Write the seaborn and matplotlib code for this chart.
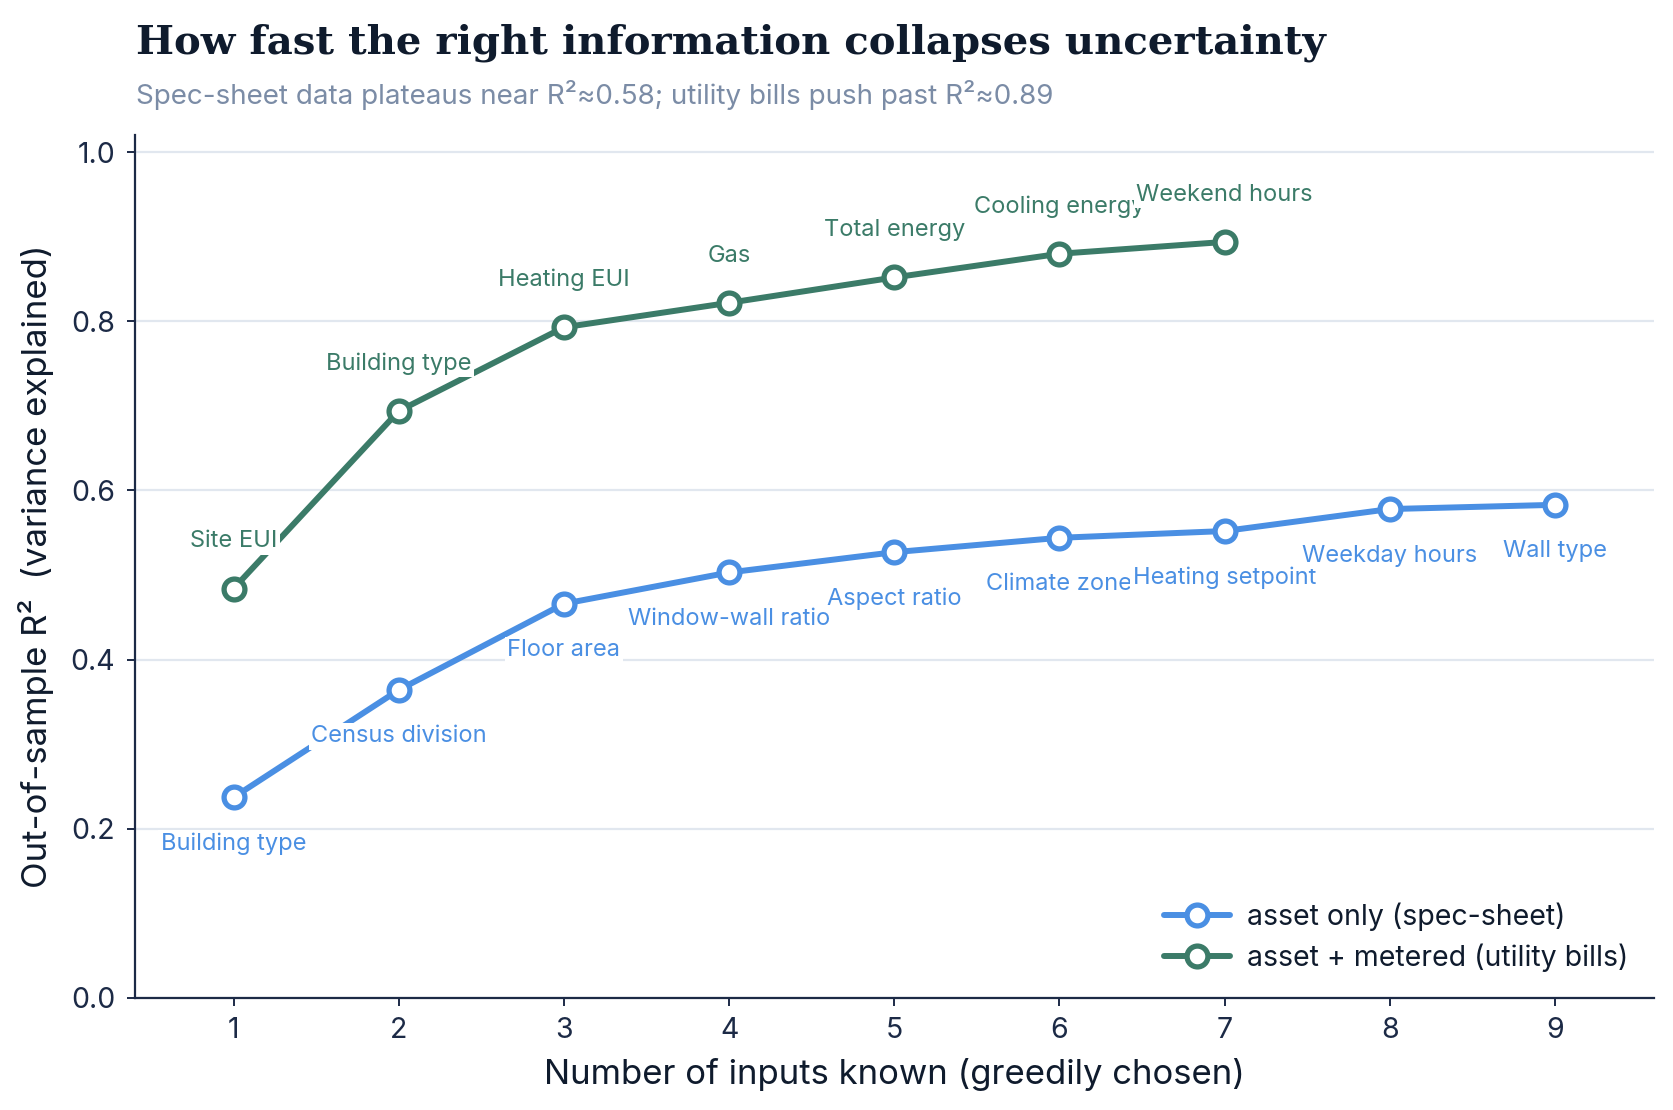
import matplotlib
matplotlib.use("Agg")
import matplotlib.pyplot as plt
import seaborn as sns
import pandas as pd

# data
asset_steps = [1, 2, 3, 4, 5, 6, 7, 8, 9]
asset_r2 = [0.237, 0.364, 0.466, 0.503, 0.527, 0.544, 0.552, 0.578, 0.583]
asset_labels = ["Building type", "Census division", "Floor area", "Window-wall ratio",
                "Aspect ratio", "Climate zone", "Heating setpoint", "Weekday hours", "Wall type"]

metered_steps = [1, 2, 3, 4, 5, 6, 7]
metered_r2 = [0.484, 0.694, 0.793, 0.822, 0.852, 0.880, 0.894]
metered_labels = ["Site EUI", "Building type", "Heating EUI", "Gas",
                  "Total energy", "Cooling energy", "Weekend hours"]

series_names = ["asset only (spec-sheet)", "asset + metered (utility bills)"]
blue = "#4a8fe3"
green = "#3b7b68"
navy = "#1c2a46"

sns.set_theme(style="white")
plt.rcParams["font.family"] = ["Inter", "DejaVu Sans"]

fig = plt.figure(figsize=(16.73, 11.10), dpi=100)
ax = fig.add_axes([0.0804, 0.1012, 0.9082, 0.7768])

asset_df = pd.DataFrame({"step": asset_steps, "r2": asset_r2})
metered_df = pd.DataFrame({"step": metered_steps, "r2": metered_r2})

line_kw = dict(linewidth=4.3, marker="o", markersize=15, markerfacecolor="white",
               markeredgewidth=3.8, zorder=3)
sns.lineplot(data=asset_df, x="step", y="r2", ax=ax, color=blue,
             markeredgecolor=blue, label=series_names[0], **line_kw)
sns.lineplot(data=metered_df, x="step", y="r2", ax=ax, color=green,
             markeredgecolor=green, label=series_names[1], **line_kw)

# point labels, blue below, green above
box = dict(boxstyle="square,pad=0.1", facecolor="white", edgecolor="none")
for x, y, t in zip(asset_steps, asset_r2, asset_labels):
    ax.annotate(t, (x, y), xytext=(0, -33.5), textcoords="offset points",
                ha="center", va="center", fontsize=17, color=blue, bbox=box, zorder=4)
for x, y, t in zip(metered_steps, metered_r2, metered_labels):
    ax.annotate(t, (x, y), xytext=(0, 34), textcoords="offset points",
                ha="center", va="center", fontsize=17, color=green, bbox=box, zorder=4)

ax.set_xlim(0.4, 9.6)
ax.set_ylim(0, 1.02)
ax.set_xticks(asset_steps)
ax.set_yticks([0.0, 0.2, 0.4, 0.6, 0.8, 1.0])
ax.set_yticklabels([f"{v:.1f}" for v in [0.0, 0.2, 0.4, 0.6, 0.8, 1.0]])
ax.yaxis.grid(True, color="#e1e7ef", linewidth=1.6)
ax.xaxis.grid(False)
ax.set_axisbelow(True)
sns.despine(ax=ax)
for side in ["left", "bottom"]:
    ax.spines[side].set_color(navy)
    ax.spines[side].set_linewidth(1.6)
ax.tick_params(axis="both", which="major", length=6, width=1.4, color=navy,
               labelsize=20.5, labelcolor=navy, left=True, bottom=True, pad=8)

ax.set_xlabel("Number of inputs known (greedily chosen)", fontsize=25, color="#0f1b2d", labelpad=10)
ax.set_ylabel("Out-of-sample R²  (variance explained)", fontsize=25, color="#0f1b2d", labelpad=12)

leg = ax.legend(loc="lower right", frameon=False, fontsize=20.5, handlelength=2.3,
                handletextpad=0.6, borderaxespad=0.5, labelspacing=0.45)
for txt in leg.get_texts():
    txt.set_color("#0f1b2d")

fig.text(0.081, 0.952, "How fast the right information collapses uncertainty",
         fontsize=29, fontweight="bold", color="#0f1b2d", family=["DejaVu Serif"], va="baseline")
fig.text(0.081, 0.906, "Spec-sheet data plateaus near R²≈0.58; utility bills push past R²≈0.89",
         fontsize=20, color="#7b8ca6", va="baseline")

fig.savefig("out.png", dpi=100)
